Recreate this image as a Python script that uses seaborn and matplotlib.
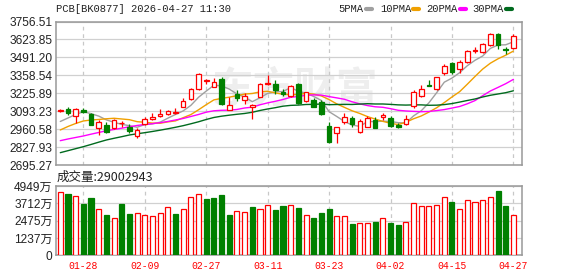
import numpy as np
import pandas as pd
import matplotlib
matplotlib.use("Agg")
import matplotlib.pyplot as plt
import seaborn as sns

# ---------------- data ----------------
dates = ["01-23", "01-26", "01-27", "01-28", "01-29", "01-30", "02-02", "02-03", "02-04", "02-05",
         "02-06", "02-09", "02-10", "02-11", "02-12", "02-13", "02-24", "02-25", "02-26", "02-27",
         "03-02", "03-03", "03-04", "03-05", "03-06", "03-09", "03-10", "03-11", "03-12", "03-13",
         "03-16", "03-17", "03-18", "03-19", "03-20", "03-23", "03-24", "03-25", "03-26", "03-27",
         "03-30", "03-31", "04-01", "04-02", "04-03", "04-07", "04-08", "04-09", "04-10", "04-13",
         "04-14", "04-15", "04-16", "04-17", "04-20", "04-21", "04-22", "04-23", "04-24", "04-27"]

open_ = [3091.1, 3105.9, 3057.8, 3102.2, 3072.6, 2971.3, 2989.0, 2966.8, 3003.8, 2978.7,
         2909.9, 2998.6, 3037.8, 3057.8, 3070.4, 3077.8, 3126.5, 3183.5, 3255.2, 3316.6,
         3274.4, 3331.4, 3102.2, 3220.5, 3172.4, 3124.3, 3200.5, 3296.6, 3294.4, 3231.5,
         3202.0, 3294.4, 3170.9, 3176.1, 3159.1, 2983.9, 2932.1, 3009.7, 3045.2, 2941.7,
         2978.7, 3028.2, 3046.7, 3040.8, 2991.2, 2998.6, 3129.5, 3202.0, 3283.3, 3253.7,
         3373.5, 3447.5, 3401.6, 3453.4, 3538.4, 3528.8, 3580.6, 3666.3, 3549.5, 3558.4]
high = [3105.9, 3120.6, 3119.0, 3116.9, 3082.0, 3028.2, 3013.4, 3037.8, 3020.8, 2998.6,
        2966.8, 3052.6, 3082.0, 3109.5, 3102.2, 3114.7, 3188.7, 3262.6, 3373.5, 3331.4,
        3336.6, 3346.2, 3200.5, 3250.0, 3230.1, 3142.8, 3301.8, 3360.9, 3324.0, 3257.4,
        3287.0, 3304.0, 3237.5, 3188.7, 3176.1, 3015.6, 2978.7, 3077.8, 3057.8, 3033.4,
        3057.8, 3048.2, 3082.0, 3057.8, 3003.8, 3065.2, 3250.0, 3287.0, 3324.0, 3348.4,
        3442.3, 3459.3, 3471.9, 3545.8, 3570.2, 3595.3, 3669.3, 3673.7, 3570.2, 3660.4]
low = [3083.7, 3065.2, 3003.8, 3077.8, 2991.2, 2915.1, 2934.3, 2959.5, 2978.7, 2934.3,
       2897.3, 2991.2, 3028.2, 3052.6, 3065.2, 3072.6, 3122.1, 3176.1, 3250.0, 3294.4,
       3272.2, 3139.1, 3098.5, 3170.9, 3142.8, 3033.4, 3196.0, 3287.0, 3220.5, 3205.7,
       3194.6, 3146.5, 3163.5, 3122.1, 3065.2, 2855.9, 2860.4, 2998.6, 2978.7, 2934.3,
       2974.2, 2966.8, 3028.2, 2978.7, 2966.8, 2991.2, 3113.3, 3198.3, 3279.6, 3250.0,
       3360.9, 3366.1, 3373.5, 3449.7, 3521.4, 3525.8, 3577.6, 3549.5, 3512.5, 3551.0]
close = [3102.2, 3080.0, 3111.8, 3087.4, 2993.5, 3013.4, 2937.3, 3026.0, 3008.5, 2946.9,
         2954.3, 3035.6, 3052.6, 3070.4, 3094.8, 3089.6, 3170.9, 3255.2, 3368.3, 3324.0,
         3307.0, 3146.5, 3139.1, 3187.2, 3207.9, 3135.4, 3290.7, 3301.8, 3247.8, 3220.5,
         3279.6, 3151.7, 3233.0, 3126.5, 3070.4, 2865.5, 2974.2, 3048.2, 2994.9, 3020.8,
         3045.2, 2971.3, 3065.2, 2983.9, 2974.2, 3035.6, 3233.0, 3255.2, 3279.6, 3343.9,
         3427.5, 3383.1, 3457.1, 3538.4, 3542.1, 3587.9, 3664.1, 3582.8, 3545.8, 3650.8]
# volume in 万 (10k)
volume = [4526, 4383, 4240, 3668, 4097, 3310, 2881, 2646, 3668, 2953,
          3024, 2881, 2810, 3024, 3432, 2953, 3310, 4168, 4383, 4025,
          4097, 4311, 2881, 3167, 3096, 3453, 3310, 3575, 3239, 3525,
          3575, 3382, 2860, 2667, 3024, 3310, 2789, 2789, 2238, 2288,
          2288, 2381, 2646, 2309, 2166, 2360, 3718, 3504, 3504, 3575,
          4147, 3811, 3289, 3933, 3790, 3933, 4147, 4597, 3525, 2900.2943]

ma5 = [3017.1, 3043.0, 3068.9, 3089.6, 3074.8, 3057.1, 3029.0, 3011.2, 2995.7, 2986.1,
       2974.2, 2994.2, 2999.4, 3012.0, 3041.5, 3068.9, 3095.5, 3136.2, 3196.1, 3241.9,
       3284.8, 3280.4, 3256.7, 3220.5, 3197.5, 3163.5, 3192.4, 3224.9, 3236.7, 3238.9,
       3267.8, 3240.4, 3226.4, 3202.0, 3172.4, 3089.6, 3054.1, 3017.1, 2990.5, 2980.9,
       3016.4, 3016.4, 3019.3, 3017.1, 3008.3, 3006.0, 3058.5, 3096.2, 3155.4, 3229.3,
       3307.7, 3338.0, 3378.0, 3429.7, 3469.6, 3501.4, 3557.6, 3582.8, 3584.2, 3606.4]
ma10 = [2954.3, 2980.2, 3002.3, 3020.8, 3028.2, 3031.9, 3037.1, 3040.8, 3035.6, 3030.4,
        3015.7, 3011.2, 3005.3, 3003.8, 3014.2, 3021.6, 3045.2, 3068.1, 3103.6, 3141.3,
        3176.8, 3187.9, 3196.8, 3207.9, 3219.7, 3224.2, 3236.0, 3240.4, 3228.6, 3218.2,
        3215.3, 3216.0, 3225.6, 3219.7, 3205.7, 3179.1, 3147.3, 3121.4, 3096.2, 3076.3,
        3053.4, 3034.9, 3017.9, 3003.8, 2994.2, 3011.2, 3037.1, 3057.8, 3086.6, 3118.4,
        3156.9, 3198.3, 3237.5, 3292.9, 3349.9, 3404.6, 3448.2, 3480.7, 3507.3, 3537.7]
ma20 = [2875.2, 2887.7, 2898.8, 2909.9, 2923.2, 2935.8, 2948.4, 2958.0, 2967.6, 2977.9,
        2987.6, 2994.9, 3000.9, 3008.3, 3017.1, 3028.2, 3039.3, 3054.1, 3068.9, 3085.9,
        3096.2, 3099.9, 3100.7, 3105.9, 3116.9, 3122.9, 3140.6, 3154.7, 3166.5, 3179.8,
        3196.1, 3202.0, 3210.9, 3213.8, 3212.3, 3201.2, 3191.6, 3181.3, 3162.8, 3147.3,
        3134.7, 3125.8, 3122.1, 3111.8, 3099.9, 3094.8, 3091.8, 3089.6, 3091.1, 3097.7,
        3105.1, 3116.2, 3128.0, 3148.0, 3171.7, 3207.9, 3242.6, 3269.3, 3296.6, 3328.4]
ma30 = [2786.4, 2801.2, 2816.0, 2830.8, 2847.1, 2864.1, 2880.3, 2892.9, 2904.7, 2917.3,
        2926.2, 2934.3, 2943.2, 2952.8, 2963.2, 2974.2, 2986.1, 3000.1, 3014.9, 3031.9,
        3046.7, 3056.3, 3063.7, 3070.4, 3076.3, 3085.2, 3098.5, 3109.6, 3119.2, 3130.3,
        3136.2, 3138.4, 3142.8, 3143.6, 3146.5, 3141.3, 3142.8, 3143.6, 3142.8, 3145.8,
        3148.7, 3146.5, 3146.5, 3143.6, 3139.9, 3138.4, 3139.9, 3139.9, 3136.9, 3137.7,
        3142.1, 3149.5, 3160.6, 3172.4, 3183.5, 3198.3, 3210.9, 3220.5, 3230.1, 3244.1]

price_ticks = [2695.27, 2827.93, 2960.58, 3093.23, 3225.89, 3358.54, 3491.20, 3623.85, 3756.51]
vol_ticks = [0, 1237, 2475, 3712, 4949]
date_ticks = ["01-28", "02-09", "02-27", "03-11", "03-23", "04-02", "04-15", "04-27"]
ma_names = ["5PMA", "10PMA", "20PMA", "30PMA"]
ma_colors = ["#a0a0a0", "#f0a000", "#ff00ff", "#006a1e"]
title = "PCB[BK0877] 2026-04-27 11:30"
vol_title = "成交量:29002943"

# ---------------- styling ----------------
sns.set_style("white")
plt.rcParams['font.family'] = ['Liberation Sans', 'Noto Sans CJK SC', 'DejaVu Sans']

RED = "#ff0000"
GREEN = "#008000"
GRID = "#d0d0d0"
SPINE = "#999999"

W, H = 578, 276
fig = plt.figure(figsize=(W / 100, H / 100), dpi=100)
ax = fig.add_axes([56 / W, 1 - 165 / H, 466 / W, 143.5 / H])
axv = fig.add_axes([56 / W, 1 - 255.3 / H, 466 / W, 69.3 / H])

idx = np.arange(len(dates))
o = np.array(open_); c = np.array(close); h = np.array(high); l = np.array(low)
vol = np.array(volume)

# watermark
ax.text(0.51, 1 - 89 / H, "东方财富", transform=fig.transFigure, fontsize=30,
        family=['Noto Sans CJK SC'], fontweight='bold', color="#eeeeee",
        ha='center', va='center', zorder=0.5)

# moving averages with seaborn
ma_df = pd.DataFrame({"idx": idx, "5PMA": ma5, "10PMA": ma10, "20PMA": ma20, "30PMA": ma30})
ma_long = ma_df.melt(id_vars="idx", var_name="series", value_name="value")
sns.lineplot(data=ma_long, x="idx", y="value", hue="series", hue_order=ma_names,
             palette=dict(zip(ma_names, ma_colors)), ax=ax, legend=False,
             linewidth=1.0, zorder=2)

# candles
for i in idx:
    up = c[i] >= o[i]
    col = RED if up else GREEN
    ax.vlines(i, l[i], h[i], color=col, lw=0.9, zorder=3)
    lo, hi = min(o[i], c[i]), max(o[i], c[i])
    ax.bar(i, max(hi - lo, 0.8), bottom=lo, width=0.6,
           facecolor="white" if up else GREEN, edgecolor=col, linewidth=0.9, zorder=4)

# volume bars (colour by change vs previous close)
for i in idx:
    up = True if i == 0 else c[i] >= c[i - 1]
    col = RED if up else GREEN
    axv.bar(i, vol[i], width=0.66, facecolor="white" if up else GREEN,
            edgecolor=col, linewidth=0.9, zorder=3)

tick_pos = [dates.index(d) for d in date_ticks]
for a in (ax, axv):
    a.set_xlim(-0.56, 60.12)
    a.set_xticks(tick_pos)
    a.grid(axis='x', linestyle=(0, (3, 3)), color="#c8c8c8", linewidth=0.9, zorder=1)
    a.grid(axis='y', linestyle='-', color=GRID, linewidth=0.9, zorder=1)
    a.tick_params(length=0, pad=2.5)
    a.set_xlabel("")
    a.set_ylabel("")
    for s in a.spines.values():
        s.set_color(SPINE)
        s.set_linewidth(1.1)
    a.set_axisbelow(True)

ax.set_ylim(price_ticks[0], price_ticks[-1])
ax.set_yticks(price_ticks)
ax.set_yticklabels([f"{v:.2f}" for v in price_ticks], fontsize=8.6, color="#222222")
ax.set_xticklabels([])

axv.set_ylim(0, vol_ticks[-1])
axv.set_yticks(vol_ticks)
axv.set_yticklabels(["0" if v == 0 else f"{v}万" for v in vol_ticks], fontsize=8.6, color="#222222")
axv.set_xticklabels(date_ticks, fontsize=7.0, color=RED, family=['Liberation Mono'])
axv.tick_params(axis='x', pad=4)

# header texts
fig.text(56 / W, 1 - 8.5 / H, title, fontsize=7.6, family=['Liberation Mono'],
         color="#222222", ha='left', va='center')
leg_x = [338, 380, 426, 472]
mark_x = [366, 413, 460, 506]
for name, col, tx, mx in zip(ma_names, ma_colors, leg_x, mark_x):
    fig.text(tx / W, 1 - 9 / H, name, fontsize=7.6, family=['Liberation Mono'],
             color="#222222", ha='left', va='center')
    fig.add_artist(plt.Line2D([mx / W, (mx + 6) / W], [1 - 9 / H, 1 - 9 / H],
                              color=col, linewidth=3, transform=fig.transFigure))
fig.text(57 / W, 1 - 177.5 / H, vol_title, fontsize=9, family=['Noto Sans CJK SC'],
         color="#222222", ha='left', va='center')

fig.savefig("out.png", dpi=100)
